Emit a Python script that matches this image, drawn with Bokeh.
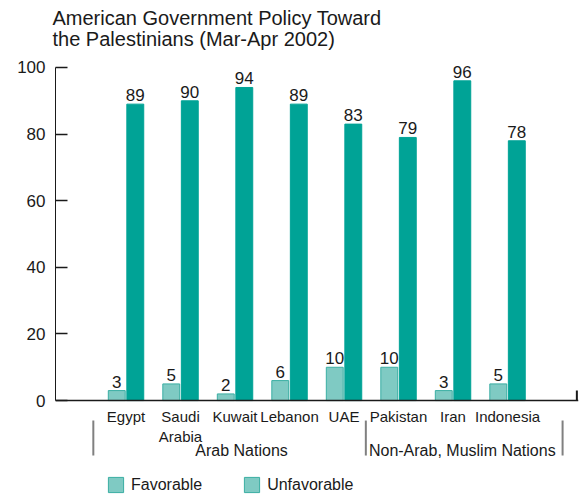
from bokeh.plotting import figure
from bokeh.models import Range1d, FixedTicker, Legend, LegendItem, Title, ColumnDataSource
from bokeh.core.properties import value
from bokeh.embed import file_html
from bokeh.resources import INLINE

# ---- data ----
countries = ["Egypt", "Saudi\nArabia", "Kuwait", "Lebanon", "UAE", "Pakistan", "Iran", "Indonesia"]
favorable = [3, 5, 2, 6, 10, 10, 3, 5]
unfavorable = [89, 90, 94, 89, 83, 79, 96, 78]
groups = ["Arab Nations", "Non-Arab, Muslim Nations"]
y_ticks = [0, 20, 40, 60, 80, 100]

# ---- style / layout constants ----
FONT = "Liberation Sans"
DARK = "#00a396"
LIGHT = "#7fcac3"
LIGHT_EDGE = "#3aaea3"
TEXT = "#1a1a1a"
X_LO, X_HI = -1.294, 8.302
Y_LO, Y_HI = -29.4, 102.1
DODGE = 0.17
BAR_W = 0.31
GROUP_LABEL_X = [2.12, 6.17]
SEP_X = [-0.6, 4.4, 8.01]
SEP_Y = (-6, -16.5)
GROUP_LABEL_Y = -17.5

idx = list(range(len(countries)))
src = ColumnDataSource(dict(
    x=idx,
    xf=[i - DODGE for i in idx],
    xu=[i + DODGE for i in idx],
    fav=favorable,
    unf=unfavorable,
    fav_lbl=[str(v) for v in favorable],
    unf_lbl=[str(v) for v in unfavorable],
))

p = figure(width=581, height=498, output_backend="svg", toolbar_location=None,
           x_range=Range1d(X_LO, X_HI), y_range=Range1d(Y_LO, Y_HI),
           min_border_left=55, min_border_right=3, min_border_top=60, min_border_bottom=0,
           title=None)
p.outline_line_color = None
p.grid.visible = False
p.background_fill_color = "white"
p.border_fill_color = "white"

# titles (line 2 nearest plot, added first)
t2 = Title(text="the Palestinians (Mar-Apr 2002)", text_font=FONT, text_font_size="20px",
           text_font_style="normal", text_color=TEXT, align="left", offset=-3,
           standoff=17, vertical_align="top")
t1 = Title(text="American Government Policy Toward", text_font=FONT, text_font_size="20px",
           text_font_style="normal", text_color=TEXT, align="left", offset=-3,
           standoff=-18, vertical_align="bottom")
p.add_layout(t2, "above")
p.add_layout(t1, "above")

# bars
fav_r = p.vbar(x="xf", top="fav", width=BAR_W, source=src, fill_color=LIGHT,
               line_color=LIGHT_EDGE, line_width=1)
unf_r = p.vbar(x="xu", top="unf", width=BAR_W, source=src, fill_color=DARK,
               line_color=DARK, line_width=1)

# value labels
for xcol, ycol, lcol in [("xf", "fav", "fav_lbl"), ("xu", "unf", "unf_lbl")]:
    p.text(x=xcol, y=ycol, text=lcol, source=src, text_font=value(FONT),
           text_font_size="17px", text_color=TEXT, text_align="center",
           text_baseline="bottom", y_offset=-3)

# y axis
ya = p.yaxis[0]
ya.ticker = FixedTicker(ticks=y_ticks)
ya.bounds = (0, 100)
ya.major_tick_in = 12
ya.major_tick_out = 0
ya.minor_tick_line_color = None
ya.axis_line_color = TEXT
ya.major_tick_line_color = TEXT
ya.major_tick_line_width = 1.5
ya.major_label_text_font = FONT
ya.major_label_text_font_size = "17px"
ya.major_label_text_color = TEXT
ya.major_label_standoff = 10

# x axis at y=0
xa = p.xaxis[0]
xa.fixed_location = 0
xa.ticker = FixedTicker(ticks=idx)
xa.major_label_overrides = {i: c for i, c in zip(idx, countries)}
xa.major_tick_in = 0
xa.major_tick_out = 0
xa.minor_tick_line_color = None
xa.axis_line_color = TEXT
xa.axis_line_width = 1.5
xa.major_label_text_font = FONT
xa.major_label_text_font_size = "15px"
xa.major_label_text_color = TEXT
xa.major_label_standoff = 7

# small end tick on the baseline
p.segment(x0=[X_HI - 0.03], y0=[0], x1=[X_HI - 0.03], y1=[3], line_color=TEXT, line_width=2)

# group separators and labels
p.segment(x0=SEP_X, y0=[SEP_Y[0]] * 3, x1=SEP_X, y1=[SEP_Y[1]] * 3,
          line_color="#808080", line_width=2)
p.text(x=GROUP_LABEL_X, y=[GROUP_LABEL_Y] * 2, text=groups, text_font=value(FONT),
       text_font_size="16px", text_color=TEXT, text_align="center", text_baseline="bottom")

legend = Legend(items=[LegendItem(label="Favorable", renderers=[fav_r]),
                       LegendItem(label="Unfavorable", renderers=[fav_r])],
                location=(51, 4), orientation="horizontal",
                glyph_width=19, glyph_height=19, label_standoff=6, spacing=40,
                padding=0, margin=0, border_line_color=None, background_fill_alpha=0,
                label_text_font=FONT, label_text_font_size="16px", label_text_color=TEXT)
p.add_layout(legend, "center")

open("out.html", "w").write(file_html(p, INLINE))
